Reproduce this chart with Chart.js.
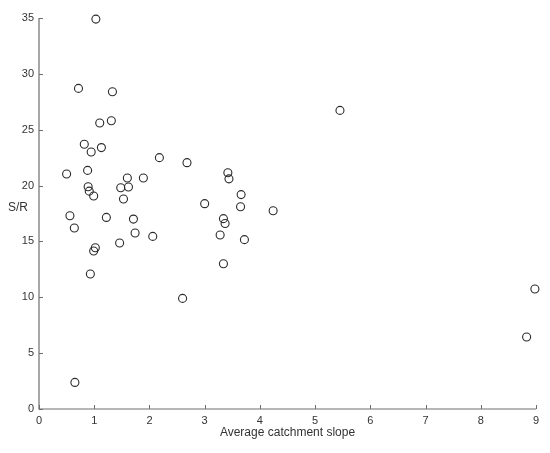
<!DOCTYPE html>
<html>
<head>
<meta charset="utf-8">
<script src="https://cdn.jsdelivr.net/npm/chart.js@4/dist/chart.umd.min.js"></script>
<style>
html,body{margin:0;padding:0;background:#fff;}
#wrap{width:550px;height:453px;}
</style>
</head>
<body>
<div id="wrap"><canvas id="c" width="550" height="453"></canvas></div>
<script>
const slopeValues = [1.03,0.715,1.33,1.10,1.31,0.82,0.945,1.13,2.18,2.68,0.50,0.88,1.60,1.89,0.89,0.91,0.99,1.48,1.62,1.53,3.0,0.56,1.22,1.71,0.64,1.74,2.06,1.46,1.02,0.99,0.93,2.6,0.65,3.42,3.44,3.66,3.65,4.24,3.34,3.37,3.28,3.72,3.34,5.45,8.98,8.83];
const srValues = [34.9,28.7,28.4,25.6,25.8,23.7,23.0,23.4,22.5,22.05,21.04,21.36,20.68,20.68,19.9,19.5,19.07,19.8,19.87,18.8,18.38,17.3,17.15,17.0,16.2,15.76,15.45,14.86,14.44,14.14,12.09,9.9,2.38,21.15,20.6,19.19,18.1,17.75,17.04,16.6,15.58,15.16,13.0,26.73,10.74,6.45];
const xTicks = [0,1,2,3,4,5,6,7,8,9];
const yTicks = [0,5,10,15,20,25,30,35];
const xTitle = 'Average catchment slope';
const yTitle = 'S/R';

const points = slopeValues.map((x,i)=>({x:x,y:srValues[i]}));
const FONT = '"Liberation Sans", Arial, Helvetica, sans-serif';
const axisColor = '#6e6e6e';
const textColor = '#333333';

const customAxes = {
  id:'customAxes',
  beforeDatasetsDraw(chart){
    const ctx = chart.ctx;
    const a = chart.chartArea;
    const xs = chart.scales.x, ys = chart.scales.y;
    ctx.save();
    ctx.strokeStyle = axisColor;
    ctx.lineWidth = 1.2;
    ctx.beginPath();
    ctx.moveTo(a.left, a.top);
    ctx.lineTo(a.left, a.bottom);
    ctx.lineTo(a.right, a.bottom);
    ctx.stroke();
    ctx.lineWidth = 1;
    ctx.beginPath();
    xTicks.forEach(v=>{
      const px = Math.round(xs.getPixelForValue(v))+0.5;
      ctx.moveTo(px, a.bottom);
      ctx.lineTo(px, a.bottom-4);
    });
    yTicks.forEach(v=>{
      const py = Math.round(ys.getPixelForValue(v))+0.5;
      ctx.moveTo(a.left, py);
      ctx.lineTo(a.left+4, py);
    });
    ctx.stroke();
    ctx.fillStyle = textColor;
    ctx.font = '12px ' + FONT;
    ctx.textAlign = 'center';
    ctx.textBaseline = 'middle';
    ctx.fillText(xTitle, (a.left+a.right)/2, a.bottom + 24);
    ctx.fillText(yTitle, 18, (a.top+a.bottom)/2 - 6);
    ctx.restore();
  }
};

new Chart(document.getElementById('c'), {
  type:'scatter',
  data:{datasets:[{
    data:points,
    clip:false,
    pointStyle:'circle',
    pointRadius:4,
    pointHoverRadius:4,
    borderWidth:1.1,
    borderColor:'#2a2a2a',
    backgroundColor:'rgba(0,0,0,0)'
  }]},
  options:{
    responsive:false,
    animation:false,
    devicePixelRatio:1,
    layout:{padding:{left:0,right:14,top:18,bottom:0}},
    plugins:{legend:{display:false},tooltip:{enabled:false}},
    scales:{
      x:{
        type:'linear', min:0, max:9,
        afterFit(s){ s.height = 44; },
        afterBuildTicks(s){ s.ticks = xTicks.map(v=>({value:v})); },
        grid:{display:false, drawTicks:false},
        border:{display:false},
        ticks:{color:textColor, font:{size:11, family:FONT}, padding:5, maxRotation:0}
      },
      y:{
        type:'linear', min:0, max:35,
        afterFit(s){ s.width = 39; },
        afterBuildTicks(s){ s.ticks = yTicks.map(v=>({value:v})); },
        grid:{display:false, drawTicks:false},
        border:{display:false},
        ticks:{color:textColor, font:{size:11, family:FONT}, padding:5}
      }
    }
  },
  plugins:[customAxes]
});
</script>
</body>
</html>
